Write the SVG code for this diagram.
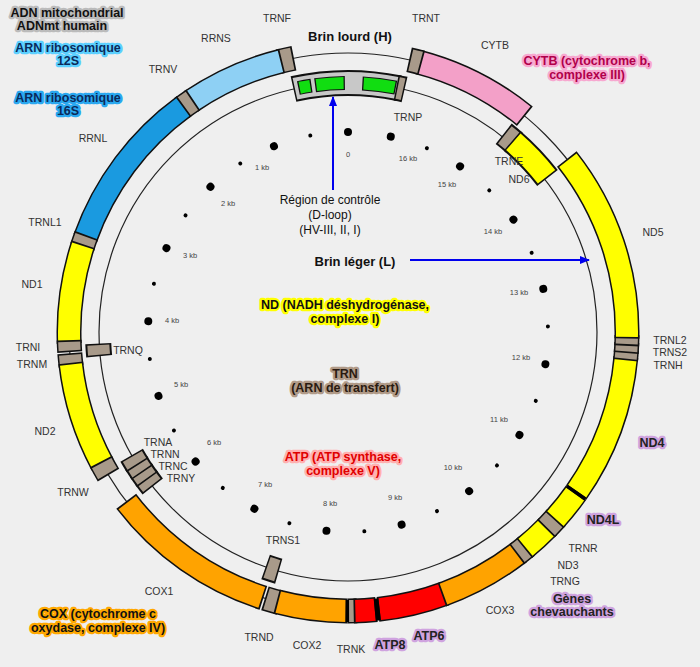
<svg xmlns="http://www.w3.org/2000/svg" width="700" height="667" viewBox="0 0 700 667">
<defs>
<style>
text{font-family:"Liberation Sans",Arial,sans-serif}
.l{font-size:10.5px;fill:#333;text-anchor:middle}
.kb{font-size:7.5px;fill:#444;text-anchor:middle}
.s{fill:none;stroke-width:1.2;stroke:#222}
.k{fill:none;stroke:#111;stroke-width:25}
.ki{fill:none;stroke:#111;stroke-width:26}
.kg{fill:none;stroke:#111;stroke-width:14}
.c{fill:none;stroke-width:22}
.cg{fill:none;stroke-width:12;stroke:#11dd11}
.br{stroke:#a89a8a}.yl{stroke:#ffff00}.or{stroke:#ffa300}.rd{stroke:#ff0000}.pk{stroke:#f3a0c8}.lb{stroke:#8ed0f4}.db{stroke:#1a9ae0}.gr{stroke:#c8c8c8}
.g{font-size:12.5px;font-weight:bold;text-anchor:middle;paint-order:stroke;stroke-width:4.5;stroke-linejoin:round}
.dot{fill:#000}
</style>
<marker id="ar" markerWidth="10" markerHeight="8" refX="9" refY="4" orient="auto" markerUnits="userSpaceOnUse"><path d="M0,0 L10,4 L0,8 z" fill="#0000ee"/></marker>
</defs>
<rect width="700" height="667" fill="#efefef"/>
<circle class="s" cx="348" cy="332" r="279"/>
<circle class="s" cx="348" cy="332" r="249"/>
<g id="heavy" transform="translate(348 332)">
<g id="TRNF-seg"><circle class="k" r="279" pathLength="360" stroke-dasharray="3.2 400" transform="rotate(255.65)"/><circle class="c br" r="279" pathLength="360" stroke-dasharray="2.5 400" transform="rotate(256)"/></g>
<g id="RRNS-seg"><circle class="k" r="279" pathLength="360" stroke-dasharray="20.7 400" transform="rotate(235.65)"/><circle class="c lb" r="279" pathLength="360" stroke-dasharray="20 400" transform="rotate(236)"/></g>
<g id="TRNV-seg"><circle class="k" r="279" pathLength="360" stroke-dasharray="3 400" transform="rotate(233.35)"/><circle class="c br" r="279" pathLength="360" stroke-dasharray="2.3 400" transform="rotate(233.7)"/></g>
<g id="RRNL-seg"><circle class="k" r="279" pathLength="360" stroke-dasharray="34.4 400" transform="rotate(199.65)"/><circle class="c db" r="279" pathLength="360" stroke-dasharray="33.7 400" transform="rotate(200)"/></g>
<g id="TRNL1-seg"><circle class="k" r="279" pathLength="360" stroke-dasharray="2.7 400" transform="rotate(197.65)"/><circle class="c br" r="279" pathLength="360" stroke-dasharray="2 400" transform="rotate(198)"/></g>
<g id="ND1-seg"><circle class="k" r="279" pathLength="360" stroke-dasharray="20.7 400" transform="rotate(177.65)"/><circle class="c yl" r="279" pathLength="360" stroke-dasharray="20 400" transform="rotate(178)"/></g>
<g id="TRNI-seg"><circle class="k" r="279" pathLength="360" stroke-dasharray="2.5 400" transform="rotate(175.85)"/><circle class="c br" r="279" pathLength="360" stroke-dasharray="1.8 400" transform="rotate(176.2)"/></g>
<g id="TRNM-seg"><circle class="k" r="279" pathLength="360" stroke-dasharray="2.7 400" transform="rotate(172.95)"/><circle class="c br" r="279" pathLength="360" stroke-dasharray="2 400" transform="rotate(173.3)"/></g>
<g id="ND2-seg"><circle class="k" r="279" pathLength="360" stroke-dasharray="22 400" transform="rotate(151.65)"/><circle class="c yl" r="279" pathLength="360" stroke-dasharray="21.3 400" transform="rotate(152)"/></g>
<g id="TRNW-seg"><circle class="k" r="279" pathLength="360" stroke-dasharray="3.2 400" transform="rotate(149.15)"/><circle class="c br" r="279" pathLength="360" stroke-dasharray="2.5 400" transform="rotate(149.5)"/></g>
<g id="COX1-seg"><circle class="k" r="279" pathLength="360" stroke-dasharray="35 400" transform="rotate(107.65)"/><circle class="c or" r="279" pathLength="360" stroke-dasharray="34.3 400" transform="rotate(108)"/></g>
<g id="TRND-seg"><circle class="k" r="279" pathLength="360" stroke-dasharray="3.2 400" transform="rotate(104.15)"/><circle class="c br" r="279" pathLength="360" stroke-dasharray="2.5 400" transform="rotate(104.5)"/></g>
<g id="COX2-seg"><circle class="k" r="279" pathLength="360" stroke-dasharray="14.7 400" transform="rotate(90.15)"/><circle class="c or" r="279" pathLength="360" stroke-dasharray="14 400" transform="rotate(90.5)"/></g>
<g id="TRNK-seg"><circle class="k" r="279" pathLength="360" stroke-dasharray="2 400" transform="rotate(88.15)"/><circle class="c br" r="279" pathLength="360" stroke-dasharray="1.3 400" transform="rotate(88.5)"/></g>
<g id="ATP8-seg"><circle class="k" r="279" pathLength="360" stroke-dasharray="4.7 400" transform="rotate(84.15)"/><circle class="c rd" r="279" pathLength="360" stroke-dasharray="4 400" transform="rotate(84.5)"/></g>
<g id="ATP6-seg"><circle class="k" r="279" pathLength="360" stroke-dasharray="14.2 400" transform="rotate(69.65)"/><circle class="c rd" r="279" pathLength="360" stroke-dasharray="13.5 400" transform="rotate(70)"/></g>
<g id="COX3-seg"><circle class="k" r="279" pathLength="360" stroke-dasharray="18.2 400" transform="rotate(52.15)"/><circle class="c or" r="279" pathLength="360" stroke-dasharray="17.5 400" transform="rotate(52.5)"/></g>
<g id="TRNG-seg"><circle class="k" r="279" pathLength="360" stroke-dasharray="2.7 400" transform="rotate(50.15)"/><circle class="c br" r="279" pathLength="360" stroke-dasharray="2 400" transform="rotate(50.5)"/></g>
<g id="ND3-seg"><circle class="k" r="279" pathLength="360" stroke-dasharray="6.7 400" transform="rotate(44.15)"/><circle class="c yl" r="279" pathLength="360" stroke-dasharray="6 400" transform="rotate(44.5)"/></g>
<g id="TRNR-seg"><circle class="k" r="279" pathLength="360" stroke-dasharray="3.2 400" transform="rotate(41.65)"/><circle class="c br" r="279" pathLength="360" stroke-dasharray="2.5 400" transform="rotate(42)"/></g>
<g id="ND4L-seg"><circle class="k" r="279" pathLength="360" stroke-dasharray="7.2 400" transform="rotate(35.15)"/><circle class="c yl" r="279" pathLength="360" stroke-dasharray="6.5 400" transform="rotate(35.5)"/></g>
<g id="ND4-seg"><circle class="k" r="279" pathLength="360" stroke-dasharray="30 400" transform="rotate(5.15)"/><circle class="c yl" r="279" pathLength="360" stroke-dasharray="29.3 400" transform="rotate(5.5)"/></g>
<g id="TRNH-seg"><circle class="k" r="279" pathLength="360" stroke-dasharray="2.2 400" transform="rotate(3.65)"/><circle class="c br" r="279" pathLength="360" stroke-dasharray="1.5 400" transform="rotate(4)"/></g>
<g id="TRNS2-seg"><circle class="k" r="279" pathLength="360" stroke-dasharray="2.2 400" transform="rotate(2.15)"/><circle class="c br" r="279" pathLength="360" stroke-dasharray="1.5 400" transform="rotate(2.5)"/></g>
<g id="TRNL2-seg"><circle class="k" r="279" pathLength="360" stroke-dasharray="2.2 400" transform="rotate(0.65)"/><circle class="c br" r="279" pathLength="360" stroke-dasharray="1.5 400" transform="rotate(1)"/></g>
<g id="ND5-seg"><circle class="k" r="279" pathLength="360" stroke-dasharray="39.7 400" transform="rotate(-38.35)"/><circle class="c yl" r="279" pathLength="360" stroke-dasharray="39 400" transform="rotate(-38)"/></g>
<g id="CYTB-seg"><circle class="k" r="279" pathLength="360" stroke-dasharray="24.7 400" transform="rotate(-75.35)"/><circle class="c pk" r="279" pathLength="360" stroke-dasharray="24 400" transform="rotate(-75)"/></g>
<g id="TRNT-seg"><circle class="k" r="279" pathLength="360" stroke-dasharray="2.7 400" transform="rotate(-77.35)"/><circle class="c br" r="279" pathLength="360" stroke-dasharray="2 400" transform="rotate(-77)"/></g>
<circle class="c" stroke="#000" r="279" pathLength="360" stroke-dasharray="0.7 400" transform="rotate(89.8)"/>
<circle class="c" stroke="#000" r="279" pathLength="360" stroke-dasharray="1 400" transform="rotate(83.5)"/>
<circle class="c" stroke="#000" r="279" pathLength="360" stroke-dasharray="0.7 400" transform="rotate(34.8)"/>
</g>
<g id="light" transform="translate(348 332)">
<g id="control-region"><circle class="ki" r="249" pathLength="360" stroke-dasharray="24.5 400" transform="rotate(257.35)"/><circle class="c gr" stroke-width="23" r="249" pathLength="360" stroke-dasharray="23.8 400" transform="rotate(257.7)"/>
<circle class="kg" r="249" pathLength="360" stroke-dasharray="3.1 400" transform="rotate(258.5)"/><circle class="cg" r="249" pathLength="360" stroke-dasharray="2.5 400" transform="rotate(258.8)"/>
<circle class="kg" r="249" pathLength="360" stroke-dasharray="6.9 400" transform="rotate(262.4)"/><circle class="cg" r="249" pathLength="360" stroke-dasharray="6.3 400" transform="rotate(262.7)"/>
<circle class="kg" r="249" pathLength="360" stroke-dasharray="7.8 400" transform="rotate(-86.7)"/><circle class="cg" r="249" pathLength="360" stroke-dasharray="7.2 400" transform="rotate(-86.4)"/></g>
<g id="TRNP-seg"><circle class="ki" r="249" pathLength="360" stroke-dasharray="2 400" transform="rotate(-78.85)"/><circle class="c br" stroke-width="23" r="249" pathLength="360" stroke-dasharray="1.3 400" transform="rotate(-78.5)"/></g>
<g id="TRNE-seg"><circle class="ki" r="252" pathLength="360" stroke-dasharray="3.2 400" transform="rotate(-51.85)"/><circle class="c br" stroke-width="23" r="252" pathLength="360" stroke-dasharray="2.5 400" transform="rotate(-51.5)"/></g>
<g id="ND6-seg"><circle class="ki" r="252" pathLength="360" stroke-dasharray="11.7 400" transform="rotate(-49.35)"/><circle class="c yl" stroke-width="23" r="252" pathLength="360" stroke-dasharray="11 400" transform="rotate(-49)"/></g>
<g id="TRNQ-seg"><circle class="ki" r="250" pathLength="360" stroke-dasharray="2.9 400" transform="rotate(174.45)"/><circle class="c br" stroke-width="23" r="250" pathLength="360" stroke-dasharray="2.2 400" transform="rotate(174.8)"/></g>
<g id="TRNY-seg"><circle class="ki" r="249" pathLength="360" stroke-dasharray="2.7 400" transform="rotate(141.65)"/><circle class="c br" stroke-width="23" r="249" pathLength="360" stroke-dasharray="2 400" transform="rotate(142)"/></g>
<g id="TRNC-seg"><circle class="ki" r="249" pathLength="360" stroke-dasharray="2.7 400" transform="rotate(143.65)"/><circle class="c br" stroke-width="23" r="249" pathLength="360" stroke-dasharray="2 400" transform="rotate(144)"/></g>
<g id="TRNN-seg"><circle class="ki" r="249" pathLength="360" stroke-dasharray="2.7 400" transform="rotate(145.65)"/><circle class="c br" stroke-width="23" r="249" pathLength="360" stroke-dasharray="2 400" transform="rotate(146)"/></g>
<g id="TRNA-seg"><circle class="ki" r="249" pathLength="360" stroke-dasharray="2.7 400" transform="rotate(147.65)"/><circle class="c br" stroke-width="23" r="249" pathLength="360" stroke-dasharray="2 400" transform="rotate(148)"/></g>
<g id="TRNS1-seg"><circle class="ki" r="249" pathLength="360" stroke-dasharray="3.2 400" transform="rotate(106.15)"/><circle class="c br" stroke-width="23" r="249" pathLength="360" stroke-dasharray="2.5 400" transform="rotate(106.5)"/></g>
</g>
<g id="kb-scale" class="dot">
<circle cx="348" cy="132" r="4"/>
<circle cx="348" cy="132" r="4" transform="rotate(-21.73 348 332)"/>
<circle cx="348" cy="132" r="4" transform="rotate(-43.46 348 332)"/>
<circle cx="348" cy="132" r="4" transform="rotate(-65.18 348 332)"/>
<circle cx="348" cy="132" r="4" transform="rotate(-86.91 348 332)"/>
<circle cx="348" cy="132" r="4" transform="rotate(-108.64 348 332)"/>
<circle cx="348" cy="132" r="4" transform="rotate(-130.37 348 332)"/>
<circle cx="348" cy="132" r="4" transform="rotate(-152.1 348 332)"/>
<circle cx="348" cy="132" r="4" transform="rotate(-173.82 348 332)"/>
<circle cx="348" cy="132" r="4" transform="rotate(-195.55 348 332)"/>
<circle cx="348" cy="132" r="4" transform="rotate(-217.28 348 332)"/>
<circle cx="348" cy="132" r="4" transform="rotate(-239.01 348 332)"/>
<circle cx="348" cy="132" r="4" transform="rotate(-260.74 348 332)"/>
<circle cx="348" cy="132" r="4" transform="rotate(-282.46 348 332)"/>
<circle cx="348" cy="132" r="4" transform="rotate(-304.19 348 332)"/>
<circle cx="348" cy="132" r="4" transform="rotate(-325.92 348 332)"/>
<circle cx="348" cy="132" r="4" transform="rotate(-347.65 348 332)"/>
<circle cx="348" cy="132" r="2" transform="rotate(-10.86 348 332)"/>
<circle cx="348" cy="132" r="2" transform="rotate(-32.59 348 332)"/>
<circle cx="348" cy="132" r="2" transform="rotate(-54.32 348 332)"/>
<circle cx="348" cy="132" r="2" transform="rotate(-76.05 348 332)"/>
<circle cx="348" cy="132" r="2" transform="rotate(-97.78 348 332)"/>
<circle cx="348" cy="132" r="2" transform="rotate(-119.5 348 332)"/>
<circle cx="348" cy="132" r="2" transform="rotate(-141.23 348 332)"/>
<circle cx="348" cy="132" r="2" transform="rotate(-162.96 348 332)"/>
<circle cx="348" cy="132" r="2" transform="rotate(-184.69 348 332)"/>
<circle cx="348" cy="132" r="2" transform="rotate(-206.42 348 332)"/>
<circle cx="348" cy="132" r="2" transform="rotate(-228.14 348 332)"/>
<circle cx="348" cy="132" r="2" transform="rotate(-249.87 348 332)"/>
<circle cx="348" cy="132" r="2" transform="rotate(-271.6 348 332)"/>
<circle cx="348" cy="132" r="2" transform="rotate(-293.33 348 332)"/>
<circle cx="348" cy="132" r="2" transform="rotate(-315.06 348 332)"/>
<circle cx="348" cy="132" r="2" transform="rotate(-336.78 348 332)"/>
</g>
<g id="kb-labels">
<text class="kb" x="348" y="157">0</text>
<text class="kb" x="262" y="170">1 kb</text>
<text class="kb" x="228" y="206">2 kb</text>
<text class="kb" x="190" y="258">3 kb</text>
<text class="kb" x="172" y="323">4 kb</text>
<text class="kb" x="181" y="387">5 kb</text>
<text class="kb" x="214" y="445">6 kb</text>
<text class="kb" x="265" y="487">7 kb</text>
<text class="kb" x="330" y="506">8 kb</text>
<text class="kb" x="395" y="500">9 kb</text>
<text class="kb" x="453" y="470">10 kb</text>
<text class="kb" x="499" y="422">11 kb</text>
<text class="kb" x="521" y="360">12 kb</text>
<text class="kb" x="519" y="295">13 kb</text>
<text class="kb" x="493" y="234">14 kb</text>
<text class="kb" x="447" y="187">15 kb</text>
<text class="kb" x="408" y="161">16 kb</text>
</g>
<g id="connectors">
<line x1="333" y1="190" x2="333" y2="97" stroke="#0000ee" stroke-width="2" marker-end="url(#ar)"/>
<line x1="410" y1="260" x2="589" y2="260" stroke="#0000ee" stroke-width="2" marker-end="url(#ar)"/>
</g>
<g id="gene-labels">
<text class="l" x="277" y="22">TRNF</text>
<text class="l" x="426" y="22">TRNT</text>
<text class="l" x="216" y="42">RRNS</text>
<text class="l" x="495" y="49">CYTB</text>
<text class="l" x="163" y="73">TRNV</text>
<text class="l" x="93" y="142">RRNL</text>
<text class="l" x="45" y="226">TRNL1</text>
<text class="l" x="32" y="288">ND1</text>
<text class="l" x="28" y="351">TRNI</text>
<text class="l" x="32" y="368">TRNM</text>
<text class="l" x="128" y="354">TRNQ</text>
<text class="l" x="45" y="435">ND2</text>
<text class="l" x="73" y="496">TRNW</text>
<text class="l" x="158" y="446">TRNA</text>
<text class="l" x="165" y="458">TRNN</text>
<text class="l" x="173" y="470">TRNC</text>
<text class="l" x="181" y="482">TRNY</text>
<text class="l" x="283" y="544">TRNS1</text>
<text class="l" x="159" y="595">COX1</text>
<text class="l" x="259" y="641">TRND</text>
<text class="l" x="307" y="649">COX2</text>
<text class="l" x="351" y="653">TRNK</text>
<text class="l" x="500" y="614">COX3</text>
<text class="l" x="565" y="585">TRNG</text>
<text class="l" x="568" y="569">ND3</text>
<text class="l" x="583" y="552">TRNR</text>
<text class="l" x="670" y="344">TRNL2</text>
<text class="l" x="670" y="356">TRNS2</text>
<text class="l" x="668" y="369">TRNH</text>
<text class="l" x="653" y="236">ND5</text>
<text class="l" x="519" y="183">ND6</text>
<text class="l" x="509" y="165">TRNE</text>
<text class="l" x="408" y="121">TRNP</text>
<text class="g" x="390" y="649" fill="#222" stroke="#cfa3df">ATP8</text>
<text class="g" x="429" y="640" fill="#222" stroke="#cfa3df">ATP6</text>
<text class="g" x="603" y="524" fill="#222" stroke="#cfa3df">ND4L</text>
<text class="g" x="652" y="447" fill="#222" stroke="#cfa3df">ND4</text>
<text class="g" x="572" y="603" fill="#222" stroke="#cfa3df" font-weight="normal">Gènes</text>
<text class="g" x="572" y="616" fill="#222" stroke="#cfa3df" font-weight="normal">chevauchants</text>
</g>
<g id="legend">
<text class="g" x="67" y="17" fill="#111" stroke="#bbb" font-weight="normal" font-size="12">ADN mitochondrial</text>
<text class="g" x="62" y="30" fill="#111" stroke="#bbb" font-weight="normal" font-size="12">ADNmt humain</text>
<text class="g" x="68" y="52" fill="#0a2a5a" stroke="#5cd0ff">ARN ribosomique</text>
<text class="g" x="68" y="65" fill="#0a2a5a" stroke="#5cd0ff">12S</text>
<text class="g" x="68" y="102" fill="#0a2a5a" stroke="#2aa8f0">ARN ribosomique</text>
<text class="g" x="68" y="115" fill="#0a2a5a" stroke="#2aa8f0">16S</text>
<text class="g" x="587" y="65" fill="#b0004a" stroke="#f7a8d0">CYTB (cytochrome b,</text>
<text class="g" x="587" y="79" fill="#b0004a" stroke="#f7a8d0">complexe III)</text>
<text class="g" x="98" y="618" fill="#111" stroke="#ffa800">COX (cytochrome c</text>
<text class="g" x="98" y="632" fill="#111" stroke="#ffa800">oxydase, complexe IV)</text>
<text class="g" x="345" y="309" fill="#111" stroke="#ffff00">ND (NADH déshydrogénase,</text>
<text class="g" x="345" y="323" fill="#111" stroke="#ffff00">complexe I)</text>
<text class="g" x="345" y="378" fill="#2a1a10" stroke="#b09a88">TRN</text>
<text class="g" x="345" y="392" fill="#2a1a10" stroke="#b09a88">(ARN de transfert)</text>
<text class="g" x="343" y="461" fill="#e00000" stroke="#ffb0b0">ATP (ATP synthase,</text>
<text class="g" x="343" y="475" fill="#e00000" stroke="#ffb0b0">complexe V)</text>
<text x="350" y="41" font-size="13" font-weight="bold" text-anchor="middle" fill="#111">Brin lourd (H)</text>
<text x="355" y="266" font-size="13" font-weight="bold" text-anchor="middle" fill="#111">Brin léger (L)</text>
<text x="330" y="204" font-size="12" text-anchor="middle" fill="#111">Région de contrôle</text>
<text x="330" y="219" font-size="12" text-anchor="middle" fill="#111">(D-loop)</text>
<text x="330" y="234" font-size="12" text-anchor="middle" fill="#111">(HV-III, II, I)</text>
</g>
</svg>
